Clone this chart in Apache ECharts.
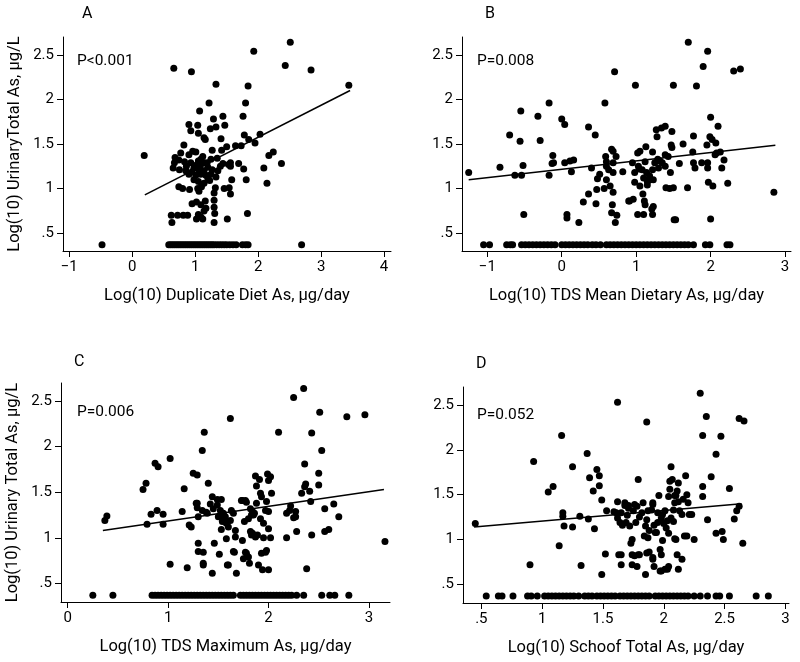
<!DOCTYPE html>
<html>
<head>
<meta charset="utf-8">
<script src="https://cdn.jsdelivr.net/npm/echarts@6/dist/echarts.min.js"></script>
<style>html,body{margin:0;padding:0;background:#fff;}#c{width:800px;height:662px;}</style>
</head>
<body>
<div id="c"></div>
<script>
// ---- data ----
const panelLabels = ['A', 'B', 'C', 'D'];
const pValues = ['P<0.001', 'P=0.008', 'P=0.006', 'P=0.052'];
const xTitles = ['Log(10) Duplicate Diet As, µg/day', 'Log(10) TDS Mean Dietary As, µg/day',
                 'Log(10) TDS Maximum As, µg/day', 'Log(10) Schoof Total As, µg/day'];
const yTitles = ['Log(10) UrinaryTotal As, µg/L', '', 'Log(10) Urinary Total As, µg/L', ''];
const yTicks = [0.5, 1, 1.5, 2, 2.5];
const xTicksA = [-1, 0, 1, 2, 3, 4];
const xTicksB = [-1, 0, 1, 2, 3];
const xTicksC = [0, 1, 2, 3];
const xTicksD = [0.5, 1, 1.5, 2, 2.5, 3];
const detectionLimit = 0.37; // value of the floor row of points

const pointsA = [[0.19,1.37],[0.66,2.35],[0.94,2.31],[1.33,2.17],[1.84,2.15],[1.93,2.54],[2.51,2.64],[2.43,2.38],[2.84,2.33],[3.44,2.16],
[1.22,1.96],[1.80,1.96],[1.07,1.87],[1.29,1.78],[1.44,1.81],[1.76,1.81],
[0.90,1.72],[1.04,1.71],[1.47,1.71],[0.93,1.65],[1.05,1.62],[1.24,1.67],[1.33,1.69],
[1.14,1.57],[1.16,1.55],[1.41,1.56],[1.78,1.60],[2.03,1.61],[1.85,1.55],[1.95,1.51],
[0.82,1.49],[1.50,1.47],[1.64,1.48],[1.73,1.48],[1.27,1.43],[1.42,1.43],
[2.17,1.37],[2.24,1.41],[2.37,1.28],[1.69,1.28],[1.77,1.22],[2.09,1.23],[1.81,1.10],[2.14,1.06],[1.83,0.72],
[0.68,1.35],[0.77,1.40],[0.90,1.38],[0.96,1.42],[1.01,1.41],[0.67,1.29],[0.74,1.32],[0.83,1.30],[0.93,1.29],[1.05,1.31],[1.09,1.33],[1.14,1.29],[1.25,1.33],[1.35,1.34],[1.53,1.27],[1.56,1.29],
[0.65,1.23],[0.75,1.21],[0.85,1.20],[0.98,1.23],[1.06,1.21],[1.14,1.20],[1.20,1.24],[1.27,1.21],[1.40,1.25],[1.56,1.25],
[0.90,1.16],[1.01,1.15],[1.09,1.16],[1.17,1.15],[1.25,1.16],[1.33,1.13],[1.05,1.08],[1.14,1.06],[1.23,1.09],[1.58,1.10],
[0.74,1.02],[0.80,1.00],[0.91,0.99],[1.04,1.00],[1.06,0.97],[1.32,1.01],[1.46,1.00],[1.54,1.01],[1.56,0.94],[1.30,0.95],
[0.95,0.83],[1.02,0.85],[1.09,0.82],[1.17,0.78],[1.14,0.75],[1.30,0.79],[1.05,0.71],[1.09,0.68],[1.02,0.66],
[0.62,0.70],[0.72,0.70],[0.81,0.70],[0.88,0.70],[0.63,0.62],[1.30,0.62],[1.51,0.66],[1.30,0.87],
[1.12,1.36],[1.00,1.26],[0.86,1.25],[1.20,1.12],[0.98,1.10],[1.10,1.02],[1.16,0.86],[1.12,0.66],[1.31,0.72],[1.19,1.29],[1.08,1.25],[0.95,1.19],[1.36,1.20],[1.44,1.28]];
const floorA = [-0.48,0.58,0.61,0.64,0.67,0.70,0.73,0.76,0.79,0.82,0.85,0.88,0.91,0.94,0.97,1.00,1.03,1.06,1.09,1.12,1.15,1.18,1.21,1.24,1.27,1.30,1.34,1.38,1.42,1.46,1.50,1.55,1.60,1.65,1.75,1.80,1.84,2.69];
const fitA = [[0.2,0.93],[3.46,2.10]];

const pointsB = [[-1.25,1.18],[-0.83,1.24],[-0.63,1.15],[-0.70,1.60],[-0.55,1.87],[-0.56,1.53],[-0.54,1.15],[-0.52,1.26],[-0.51,0.71],[-0.32,1.81],[-0.29,1.54],[-0.17,1.96],[-0.17,1.15],[-0.13,1.28],[-0.12,1.37],[-0.11,1.29],[0.00,1.78],[0.04,1.72],[0.04,1.29],[0.07,0.71],[0.07,0.67],[0.11,1.31],[0.13,1.19],[0.16,1.32],[0.23,0.62],[0.29,0.85],[0.36,1.69],[0.36,0.94],[0.40,1.23],[0.45,1.60],[0.46,0.83],[0.47,0.99],[0.48,1.11],[0.51,1.16],[0.58,1.96],[0.57,1.00],[0.59,1.36],[0.60,1.30],[0.60,1.25],[0.60,1.10],[0.63,1.21],[0.65,1.03],[0.67,1.44],[0.69,1.42],[0.69,1.29],[0.69,1.18],[0.69,0.96],[0.68,0.82],[0.67,0.73],[0.71,2.31],[0.72,0.62],[0.73,1.36],[0.74,0.70],[0.82,1.19],[0.91,0.86],[0.96,0.88],[0.95,1.29],[0.98,1.18],[0.98,1.07],[0.99,2.16],[1.02,1.40],[1.03,1.25],[1.02,0.71],[1.05,1.42],[1.05,1.03],[1.08,1.21],[1.09,0.94],[1.10,0.71],[1.10,1.12],[1.12,0.82],[1.13,1.47],[1.14,1.18],[1.15,1.08],[1.18,1.14],[1.21,0.77],[1.22,1.41],[1.22,1.21],[1.22,0.71],[1.23,1.10],[1.25,1.29],[1.27,1.66],[1.28,1.58],[1.30,1.23],[1.32,1.31],[1.34,1.68],[1.39,1.70],[1.39,1.38],[1.39,1.25],[1.40,1.01],[1.43,1.36],[1.46,1.18],[1.47,1.49],[1.48,1.46],[1.48,1.64],[1.50,2.16],[1.50,1.01],[1.51,0.65],[1.53,0.65],[1.58,1.28],[1.63,1.50],[1.69,1.01],[1.70,2.64],[1.76,1.41],[1.77,1.59],[1.77,1.29],[1.79,1.23],[1.81,2.15],[1.88,1.29],[1.90,2.37],[1.95,1.49],[1.96,2.54],[1.96,1.29],[1.96,1.23],[1.97,1.07],[1.99,1.58],[2.02,1.55],[2.00,1.80],[2.00,0.66],[2.03,1.03],[2.06,1.38],[2.07,1.51],[2.08,1.40],[2.10,1.70],[2.13,1.41],[2.15,1.23],[2.18,1.32],[2.23,1.06],[2.31,2.32],[2.40,2.34],[2.85,0.96],
[1.19,1.10],[1.15,1.04],[1.23,0.80],[1.45,1.00],[0.90,0.86],[1.11,0.86],[1.04,1.22],[1.12,1.30],[1.35,1.29],[1.29,1.33]];
const floorB = [-1.05,-0.97,-0.74,-0.69,-0.66,-0.54,-0.49,-0.44,-0.39,-0.34,-0.29,-0.24,-0.19,-0.14,-0.09,0.00,0.05,0.10,0.15,0.20,0.25,0.30,0.35,0.41,0.46,0.52,0.60,0.65,0.70,0.75,0.80,0.85,0.90,0.95,1.00,1.05,1.10,1.15,1.20,1.25,1.30,1.35,1.40,1.45,1.50,1.55,1.60,1.65,1.70,1.77,1.93,1.99,2.22,2.26];
const fitB = [[-1.25,1.10],[2.87,1.485]];

const pointsC = [[0.37,1.19],[0.39,1.24],[0.75,1.53],[0.78,1.60],[0.79,1.15],[0.83,1.26],[0.87,1.82],[0.90,1.78],[0.89,1.30],[0.95,1.26],[0.95,1.15],[1.02,1.87],[1.02,0.71],[1.14,1.29],[1.16,1.54],[1.19,0.67],[1.21,1.14],[1.23,1.12],[1.25,1.71],[1.29,1.69],[1.29,1.38],[1.29,1.33],[1.30,1.23],[1.30,0.94],[1.30,0.85],[1.34,1.96],[1.34,1.30],[1.35,0.84],[1.35,0.72],[1.35,0.70],[1.36,2.16],[1.39,1.27],[1.40,1.60],[1.42,1.37],[1.44,0.61],[1.44,1.45],[1.45,1.32],[1.46,0.94],[1.49,1.42],[1.49,1.36],[1.50,1.23],[1.51,0.82],[1.52,1.30],[1.53,1.42],[1.53,1.09],[1.55,1.27],[1.56,1.22],[1.58,1.16],[1.58,0.99],[1.60,0.70],[1.62,1.19],[1.63,1.30],[1.62,2.31],[1.65,1.27],[1.65,0.85],[1.66,0.84],[1.67,1.08],[1.68,0.61],[1.73,1.41],[1.74,0.97],[1.75,0.77],[1.76,1.18],[1.78,1.39],[1.78,0.83],[1.80,0.79],[1.80,1.21],[1.81,0.72],[1.82,1.07],[1.82,1.32],[1.83,1.25],[1.84,1.05],[1.86,1.27],[1.87,1.68],[1.88,1.38],[1.88,1.57],[1.89,1.03],[1.90,0.70],[1.91,1.64],[1.92,1.49],[1.92,1.21],[1.93,1.45],[1.94,0.65],[1.95,1.16],[1.95,1.00],[1.97,0.84],[1.97,1.30],[1.98,0.86],[1.98,1.40],[1.99,1.70],[2.00,1.63],[2.00,1.29],[2.00,1.10],[2.00,0.65],[2.02,1.00],[2.02,1.67],[2.03,1.49],[2.10,2.16],[2.18,1.27],[2.18,1.00],[2.21,1.30],[2.22,1.35],[2.25,1.22],[2.25,2.54],[2.27,1.29],[2.27,1.23],[2.28,1.07],[2.33,1.49],[2.35,2.64],[2.36,1.81],[2.36,1.56],[2.37,1.59],[2.38,0.66],[2.41,1.51],[2.42,1.40],[2.43,2.15],[2.43,1.03],[2.50,1.71],[2.50,1.58],[2.51,2.38],[2.53,1.96],[2.56,1.32],[2.56,1.07],[2.60,1.09],[2.65,1.37],[2.70,1.23],[2.78,2.33],[2.96,2.35],[3.16,0.96],
[1.54,1.18],[1.57,1.23],[1.60,1.12],[1.67,1.01],[1.77,1.41],[1.84,1.29],[1.85,1.25],[1.83,1.03],[1.87,1.01],[1.93,0.83],[1.77,0.84],[1.59,0.70],[1.74,1.41],[1.38,1.28],[1.28,1.38]];
const floorC = [0.25,0.45,0.84,0.87,0.90,0.93,0.96,0.99,1.02,1.05,1.08,1.11,1.14,1.17,1.20,1.23,1.26,1.29,1.32,1.35,1.38,1.41,1.44,1.47,1.50,1.53,1.56,1.59,1.62,1.65,1.72,1.75,1.78,1.81,1.84,1.87,1.90,1.93,1.96,1.99,2.02,2.05,2.08,2.11,2.14,2.17,2.20,2.23,2.28,2.35,2.53,2.61,2.66,2.80];
const fitC = [[0.35,1.08],[3.15,1.53]];

const pointsD = [[0.45,1.18],[0.90,0.72],[0.93,1.87],[1.05,1.53],[1.09,1.59],[1.14,0.93],[1.16,2.16],[1.17,1.30],[1.17,1.26],[1.18,1.15],[1.25,1.81],[1.25,1.14],[1.31,1.26],[1.32,0.71],[1.37,1.96],[1.38,1.23],[1.39,1.69],[1.42,1.54],[1.43,1.12],[1.45,1.78],[1.47,1.71],[1.47,1.60],[1.49,1.44],[1.49,0.61],[1.52,0.84],[1.53,1.32],[1.61,1.30],[1.62,1.42],[1.62,2.53],[1.62,1.24],[1.63,0.83],[1.64,1.19],[1.65,0.72],[1.65,1.30],[1.66,1.16],[1.68,1.41],[1.69,1.19],[1.71,1.35],[1.72,1.15],[1.73,0.96],[1.74,1.00],[1.74,0.72],[1.75,1.32],[1.76,0.82],[1.77,1.19],[1.78,1.37],[1.78,0.70],[1.79,1.67],[1.80,0.83],[1.83,1.41],[1.84,1.04],[1.85,0.61],[1.86,2.31],[1.86,1.22],[1.87,1.02],[1.87,1.32],[1.88,0.86],[1.88,1.10],[1.90,1.33],[1.91,0.78],[1.91,1.39],[1.92,0.70],[1.93,1.08],[1.94,1.08],[1.95,1.19],[1.95,1.30],[1.96,1.49],[1.97,0.89],[1.97,0.65],[1.98,1.24],[1.99,0.99],[1.99,1.28],[2.01,1.32],[2.01,0.67],[2.02,1.13],[2.03,1.21],[2.04,1.07],[2.04,0.70],[2.04,1.48],[2.05,1.56],[2.05,1.65],[2.06,1.81],[2.06,1.24],[2.07,1.67],[2.08,1.33],[2.08,1.20],[2.09,1.41],[2.10,1.00],[2.10,1.49],[2.11,0.83],[2.12,0.67],[2.12,1.63],[2.13,1.32],[2.15,1.28],[2.15,0.78],[2.16,1.45],[2.17,1.04],[2.18,1.71],[2.19,1.50],[2.19,1.04],[2.20,1.41],[2.21,1.28],[2.23,1.28],[2.25,1.00],[2.30,2.63],[2.32,2.16],[2.32,1.48],[2.32,1.59],[2.35,2.37],[2.36,1.22],[2.39,1.70],[2.43,1.95],[2.43,1.07],[2.47,2.15],[2.48,1.09],[2.49,1.00],[2.54,1.57],[2.58,1.23],[2.60,1.32],[2.62,2.35],[2.62,1.37],[2.65,0.96],[2.66,2.32],
[1.68,1.38],[1.71,1.38],[1.76,1.39],[1.91,1.41],[1.86,0.85],[1.91,0.80],[1.98,0.83],[1.98,0.65],[2.03,0.67],[1.65,0.83],[1.74,0.83],[1.79,0.83],[1.59,1.31],[1.70,1.27],[1.80,1.25],[1.85,1.15],[1.92,1.16],[2.00,1.18],[1.82,1.30],[2.09,1.01],[2.11,1.54],[2.09,1.49],[2.12,1.42]];
const floorD = [0.54,0.64,0.67,0.76,0.88,0.91,0.96,1.02,1.05,1.08,1.11,1.14,1.17,1.20,1.23,1.26,1.30,1.35,1.38,1.41,1.45,1.48,1.51,1.54,1.57,1.60,1.64,1.67,1.70,1.73,1.76,1.79,1.82,1.85,1.88,1.93,1.96,1.99,2.02,2.05,2.08,2.11,2.14,2.17,2.20,2.25,2.30,2.36,2.43,2.46,2.54,2.76,2.86];
const fitD = [[0.44,1.14],[2.64,1.40]];

// ---- layout ----
const FONT = 'Roboto';
const grids = [
  {left: 63, top: 37, width: 328, height: 214},
  {left: 462, top: 37, width: 329, height: 214},
  {left: 61, top: 383, width: 329, height: 219},
  {left: 463, top: 387, width: 326, height: 216}
];
const xRanges = [[-1.1, 4.11], [-1.34, 3.08], [-0.067, 3.21], [0.349, 3.03]];
const yRanges = [[0.30, 2.70], [0.30, 2.70], [0.295, 2.70], [0.293, 2.70]];
const xTickSets = [xTicksA, xTicksB, xTicksC, xTicksD];
const pointSets = [pointsA, pointsB, pointsC, pointsD];
const floorSets = [floorA, floorB, floorC, floorD];
const fitSets = [fitA, fitB, fitC, fitD];

function fmt(v) {
  let s = String(v);
  if (s.startsWith('0.')) s = s.slice(1);
  return s.replace('-', '\u2212');
}

const xAxes = [], yAxes = [], series = [];
for (let i = 0; i < 4; i++) {
  xAxes.push({
    type: 'value', gridIndex: i, min: xRanges[i][0], max: xRanges[i][1],
    axisLine: {show: true, onZero: false, lineStyle: {color: '#000', width: 1}},
    axisTick: {show: true, length: 6, customValues: xTickSets[i], lineStyle: {color: '#000'}},
    axisLabel: {customValues: xTickSets[i], formatter: fmt, color: '#000', fontFamily: FONT, fontSize: 15, margin: 9},
    splitLine: {show: false},
    name: xTitles[i], nameLocation: 'middle', nameGap: 36,
    nameTextStyle: {color: '#000', fontFamily: FONT, fontSize: 16.5}
  });
  yAxes.push({
    type: 'value', gridIndex: i, min: yRanges[i][0], max: yRanges[i][1],
    axisLine: {show: true, onZero: false, lineStyle: {color: '#000', width: 1}},
    axisTick: {show: true, length: 6, customValues: yTicks, lineStyle: {color: '#000'}},
    axisLabel: {customValues: yTicks, formatter: fmt, color: '#000', fontFamily: FONT, fontSize: 15, margin: 9},
    splitLine: {show: false},
    name: yTitles[i], nameLocation: 'middle', nameGap: 40,
    nameTextStyle: {color: '#000', fontFamily: FONT, fontSize: 16.5}
  });
  const pts = pointSets[i].concat(floorSets[i].map(x => [x, detectionLimit]));
  series.push({
    type: 'scatter', xAxisIndex: i, yAxisIndex: i, data: pts,
    symbol: 'circle', symbolSize: 7, itemStyle: {color: '#000', opacity: 1}, silent: true
  });
  series.push({
    type: 'line', xAxisIndex: i, yAxisIndex: i, data: fitSets[i],
    symbol: 'none', lineStyle: {color: '#000', width: 1.5}, silent: true
  });
}

const labelPos = [[82, 15], [485, 15], [74, 363], [476, 365]];
const pPos = [[77, 62], [477, 62], [77, 413], [477, 416]];
const graphics = [];
for (let i = 0; i < 4; i++) {
  graphics.push({type: 'text', left: labelPos[i][0], top: labelPos[i][1] - 9,
    style: {text: panelLabels[i], font: '16px ' + FONT, fill: '#000'}});
  graphics.push({type: 'text', left: pPos[i][0], top: pPos[i][1] - 9,
    style: {text: pValues[i], font: '15.5px ' + FONT, fill: '#000'}});
}

const chart = echarts.init(document.getElementById('c'), null, {renderer: 'canvas'});
chart.setOption({
  animation: false,
  backgroundColor: '#fff',
  grid: grids,
  xAxis: xAxes,
  yAxis: yAxes,
  series: series,
  graphic: graphics
});
</script>
</body>
</html>
